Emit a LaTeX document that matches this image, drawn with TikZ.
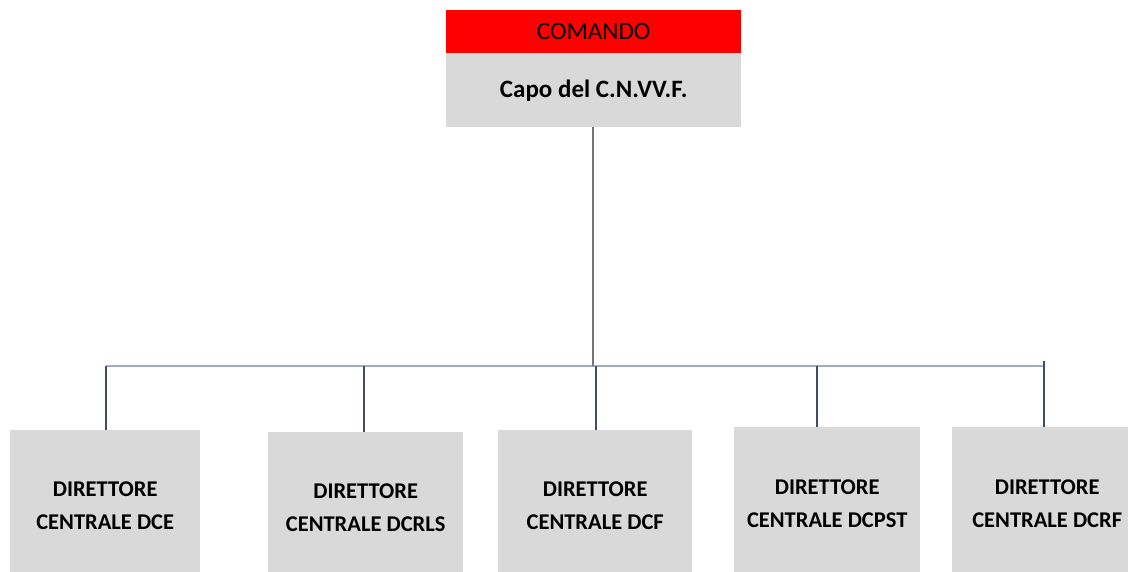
\documentclass[tikz,border=0pt]{standalone}
\usepackage{fontspec}
\setmainfont{Carlito}
\definecolor{boxgray}{HTML}{D9D9D9}
\definecolor{busline}{HTML}{A3ACBA}
\definecolor{dropline}{HTML}{3E4E66}
\begin{document}
\begin{tikzpicture}[x=1pt,y=-1pt,
  headbox/.style={fill=red,draw=none,inner sep=0pt,minimum width=295pt,minimum height=43pt,
    font=\fontsize{25}{28}\selectfont},
  chiefbox/.style={fill=boxgray,draw=none,inner sep=0pt,minimum width=295pt,minimum height=74pt,
    font=\fontsize{25}{28}\selectfont\bfseries},
  dirbox/.style={fill=boxgray,draw=none,inner sep=0pt,align=center,
    font=\fontsize{22.5}{33}\selectfont\bfseries},
  bus/.style={draw=busline,line width=2.2pt},
  drop/.style={draw=dropline,line width=1.3pt}]
\useasboundingbox (0,0) rectangle (1128,572);
\clip (0,0) rectangle (1128,572);
% top
\node[headbox,anchor=north west] (cmd) at (446,10) {COMANDO};
\node[chiefbox,anchor=north west] (capo) at (446,53) {Capo del C.N.VV.F.};
% directors
\node[dirbox,anchor=north west,minimum width=190pt,minimum height=151pt] (b1) at (10,430) {DIRETTORE\\CENTRALE DCE};
\node[dirbox,anchor=north west,minimum width=195pt,minimum height=150pt] (b2) at (268,432) {DIRETTORE\\CENTRALE DCRLS};
\node[dirbox,anchor=north west,minimum width=194pt,minimum height=150pt] (b3) at (498,430) {DIRETTORE\\CENTRALE DCF};
\node[dirbox,anchor=north west,minimum width=186pt,minimum height=152pt] (b4) at (734,427) {DIRETTORE\\CENTRALE DCPST};
\node[dirbox,anchor=north west,minimum width=190pt,minimum height=152pt] (b5) at (952,427) {DIRETTORE\\CENTRALE DCRF};
% bus coordinates
\coordinate (j) at (593,366);
\coordinate (d1) at (106,366);
\coordinate (d2) at (364,366);
\coordinate (d3) at (596,366);
\coordinate (d4) at (817,366);
\coordinate (d5) at (1044,366);
\draw[bus] (d1) -- (d5);
\draw[drop,draw=gray!80!dropline] (capo.south -| j) -- (j);
\draw[drop] (d1) -- (d1 |- b1.north);
\draw[drop] (d2) -- (d2 |- b2.north);
\draw[drop] (d3) -- (d3 |- b3.north);
\draw[drop] (d4) -- (d4 |- b4.north);
\draw[drop] ([yshift=5pt]d5) -- (d5 |- b5.north);
\end{tikzpicture}
\end{document}
